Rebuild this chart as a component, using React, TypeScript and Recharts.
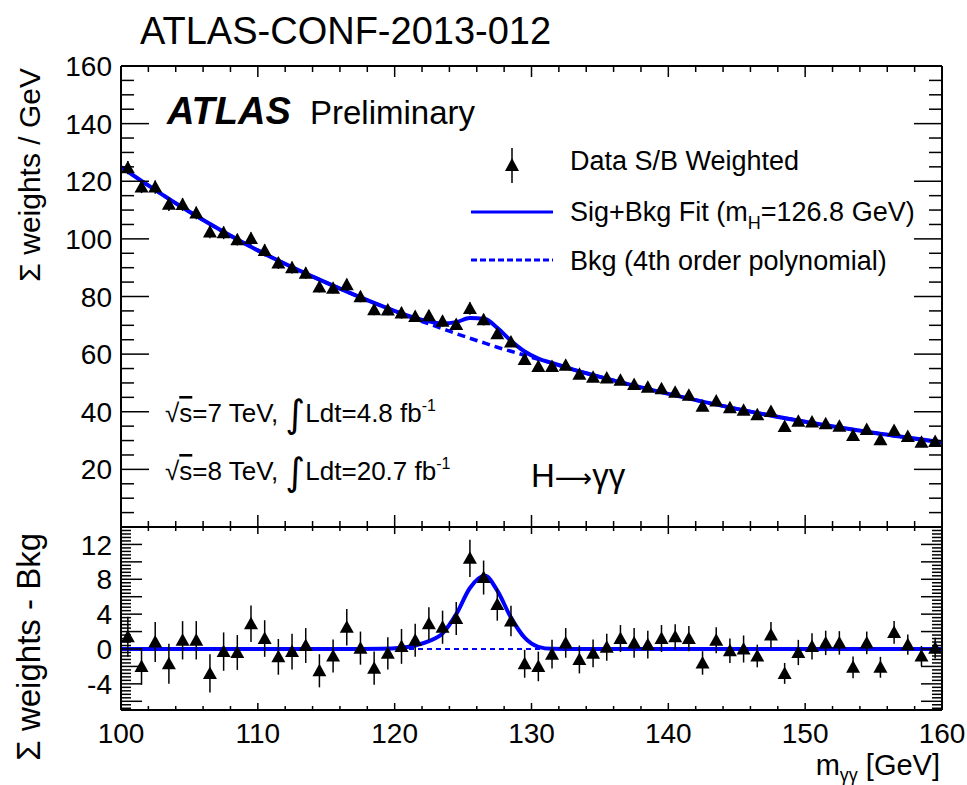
import React from 'react';
import { ComposedChart, Line, Scatter, XAxis, YAxis, ErrorBar } from 'recharts';

// bin centres of the diphoton mass histogram (GeV)
const massBins = [
  100.5, 101.5, 102.5, 103.5, 104.5, 105.5, 106.5, 107.5, 108.5, 109.5,
  110.5, 111.5, 112.5, 113.5, 114.5, 115.5, 116.5, 117.5, 118.5, 119.5,
  120.5, 121.5, 122.5, 123.5, 124.5, 125.5, 126.5, 127.5, 128.5, 129.5,
  130.5, 131.5, 132.5, 133.5, 134.5, 135.5, 136.5, 137.5, 138.5, 139.5,
  140.5, 141.5, 142.5, 143.5, 144.5, 145.5, 146.5, 147.5, 148.5, 149.5,
  150.5, 151.5, 152.5, 153.5, 154.5, 155.5, 156.5, 157.5, 158.5, 159.5,
];

// S/B weighted events per GeV
const weightedData = [
  124.7, 118.0, 118.0, 112.0, 111.9, 109.0, 102.4, 102.1, 99.7, 100.1,
  96.0, 91.6, 90.0, 88.1, 83.3, 82.9, 84.1, 79.9, 75.4, 75.3,
  74.3, 73.1, 73.3, 71.4, 70.3, 75.8, 71.9, 67.1, 64.2, 58.1,
  55.7, 55.7, 56.1, 53.0, 52.0, 51.7, 50.9, 49.5, 48.5, 48.0,
  46.8, 45.7, 41.9, 43.7, 41.4, 40.5, 39.0, 40.1, 34.9, 36.7,
  36.4, 35.8, 35.0, 31.8, 33.8, 30.3, 33.5, 31.4, 29.4, 29.7,
];

// data minus background fit
const residuals = [
  1.4, -2.0, 0.8, -1.7, 1.0, 1.0, -2.8, -0.3, -0.4, 2.9,
  1.2, -0.9, -0.3, 0.4, -2.5, -0.8, 2.5, 0.1, -2.2, -0.5,
  0.3, 1.0, 2.9, 2.5, 3.5, 10.4, 8.2, 5.1, 3.2, -1.7,
  -2.0, -0.6, 0.7, -1.2, -0.5, 0.2, 1.2, 0.7, 0.5, 1.2,
  1.4, 1.2, -1.6, 1.0, -0.2, 0.0, -0.8, 1.6, -2.8, -0.4,
  0.3, 0.7, 0.7, -2.1, 0.7, -2.1, 1.9, 0.5, -0.8, 0.1,
];

const binErrors = [
  2.3, 2.1, 2.3, 2.3, 2.2, 2.2, 2.2, 2.2, 2.0, 2.1,
  2.1, 2.05, 2.05, 2.0, 1.9, 1.9, 2.1, 1.9, 1.9, 1.85,
  2.0, 1.9, 1.9, 1.9, 1.9, 2.15, 1.95, 1.85, 1.75, 1.6,
  1.7, 1.65, 1.7, 1.6, 1.6, 1.55, 1.55, 1.7, 1.6, 1.55,
  1.45, 1.45, 1.35, 1.5, 1.4, 1.55, 1.3, 1.5, 1.2, 1.45,
  1.5, 1.4, 1.35, 1.25, 1.3, 1.2, 1.3, 1.15, 1.15, 1.2,
];

// fit curves
const fitMass = [100, 105, 110, 115, 119, 120.5, 121.5, 122.5, 123.5, 124.5, 125.5, 126.6, 127.5, 128.5, 129.5, 130.5, 131.5, 133, 135, 140, 145, 150, 155, 160];
const bkgFit = [124.9, 109.4, 96.0, 84.8, 76.8, 74.0, 72.2, 70.5, 68.8, 67.1, 65.5, 63.8, 62.4, 61.0, 59.6, 58.2, 56.9, 54.7, 52.1, 46.2, 41.0, 36.5, 32.7, 29.4];
const sigFit = [0, 0, 0, 0, 0.02, 0.15, 0.4, 0.9, 1.8, 4.0, 7.0, 8.4, 6.7, 3.6, 1.3, 0.25, 0.02, 0, 0, 0, 0, 0, 0, 0];

const xLabels = [100, 110, 120, 130, 140, 150, 160];
const upperYLabels = [20, 40, 60, 80, 100, 120, 140, 160];
const lowerYLabels = [-4, 0, 4, 8, 12];

const FONT = '"Liberation Sans", Arial, Helvetica, sans-serif';
const BLUE = '#0000ff';

function span(a: number, b: number, step: number) {
  const out: number[] = [];
  for (let v = a; v <= b + 1e-9; v += step) out.push(Math.round(v * 1000) / 1000);
  return out;
}
const isMultiple = (v: number, step: number) => Math.abs(v / step - Math.round(v / step)) < 1e-6;

const xTicks = span(100, 160, 2);
const upperYTicks = span(0, 160, 5);
const lowerYTicks = span(-6.8, 14, 0.4);

const upperPoints = massBins.map((m, i) => ({ m, y: weightedData[i], e: binErrors[i] }));
const lowerPoints = massBins.map((m, i) => ({ m, y: residuals[i], e: binErrors[i] }));
const bkgCurve = fitMass.map((m, i) => ({ m, y: bkgFit[i] }));
const sbCurve = fitMass.map((m, i) => ({ m, y: bkgFit[i] + sigFit[i] }));
const sigCurve = fitMass.map((m, i) => ({ m, y: sigFit[i] }));
const zeroLine = [{ m: 100, y: 0 }, { m: 160, y: 0 }];

type Side = 'left' | 'right' | 'top' | 'bottom';

// ROOT-style ticks pointing into the frame
function frameTick(side: Side, longStep: number, longLen: number, shortLen: number, labels: number[] = []) {
  return (props: any) => {
    const { x, y, payload } = props;
    const v = payload.value;
    const len = isMultiple(v, longStep) ? longLen : shortLen;
    const hasLabel = labels.some((l) => Math.abs(l - v) < 1e-6);
    let x2 = x;
    let y2 = y;
    if (side === 'left') x2 = x + len;
    if (side === 'right') x2 = x - len;
    if (side === 'top') y2 = y + len;
    if (side === 'bottom') y2 = y - len;
    return (
      <g>
        <line x1={x} y1={y} x2={x2} y2={y2} stroke="#000" strokeWidth={1.5} />
        {hasLabel && side === 'left' && (
          <text x={x - 9} y={y} dy="0.36em" textAnchor="end" fontFamily={FONT} fontSize={28} fill="#000">
            {v}
          </text>
        )}
        {hasLabel && side === 'bottom' && (
          <text x={x} y={y + 33} textAnchor="middle" fontFamily={FONT} fontSize={28} fill="#000">
            {v}
          </text>
        )}
      </g>
    );
  };
}

const Triangle = (props: any) => {
  const { cx, cy } = props;
  if (cx == null || cy == null) return <g />;
  return <polygon points={`${cx},${cy - 7} ${cx - 7},${cy + 5.5} ${cx + 7},${cy + 5.5}`} fill="#000" />;
};

const frame = { stroke: '#000', strokeWidth: 2 };

const UpperPanel = () => (
  <ComposedChart width={967} height={540} margin={{ top: 65, right: 24, bottom: 12, left: 0 }}>
    <XAxis xAxisId="b" dataKey="m" type="number" domain={[100, 160]} allowDataOverflow ticks={xTicks} interval={0}
      height={1} tickSize={0} tickMargin={0} axisLine={frame} tickLine={false} tick={frameTick('bottom', 10, 12, 6)} />
    <XAxis xAxisId="t" orientation="top" dataKey="m" type="number" domain={[100, 160]} allowDataOverflow ticks={xTicks} interval={0}
      height={1} tickSize={0} tickMargin={0} axisLine={frame} tickLine={false} tick={frameTick('top', 10, 11, 6)} />
    <YAxis yAxisId="l" dataKey="y" type="number" domain={[0, 160]} allowDataOverflow ticks={upperYTicks} interval={0}
      width={121} tickSize={0} tickMargin={0} axisLine={frame} tickLine={false} tick={frameTick('left', 20, 28, 13, upperYLabels)} />
    <YAxis yAxisId="r" orientation="right" dataKey="y" type="number" domain={[0, 160]} allowDataOverflow ticks={upperYTicks} interval={0}
      width={1} tickSize={0} tickMargin={0} axisLine={frame} tickLine={false} tick={frameTick('right', 20, 28, 13)} />
    <Line xAxisId="b" yAxisId="l" data={bkgCurve} dataKey="y" type="monotone" stroke={BLUE} strokeWidth={3.5}
      strokeDasharray="8 5" dot={false} activeDot={false} isAnimationActive={false} />
    <Line xAxisId="b" yAxisId="l" data={sbCurve} dataKey="y" type="monotone" stroke={BLUE} strokeWidth={4}
      dot={false} activeDot={false} isAnimationActive={false} />
    {/* invisible hooks so the top / right frame axes have a series bound to them */}
    <Line xAxisId="t" yAxisId="r" data={zeroLine} dataKey="y" stroke="none" dot={false} activeDot={false} isAnimationActive={false} />
    <Scatter xAxisId="b" yAxisId="l" data={upperPoints} dataKey="y" shape={Triangle} isAnimationActive={false}>
      <ErrorBar dataKey="e" direction="y" width={0} stroke="#000" strokeWidth={1.5} />
    </Scatter>
  </ComposedChart>
);

const LowerPanel = () => (
  <ComposedChart width={967} height={785} margin={{ top: 526, right: 24, bottom: 74, left: 0 }}>
    <XAxis xAxisId="b" dataKey="m" type="number" domain={[100, 160]} allowDataOverflow ticks={xTicks} interval={0}
      height={1} tickSize={0} tickMargin={0} axisLine={frame} tickLine={false} tick={frameTick('bottom', 10, 7, 4, xLabels)} />
    <XAxis xAxisId="t" orientation="top" dataKey="m" type="number" domain={[100, 160]} allowDataOverflow ticks={xTicks} interval={0}
      height={1} tickSize={0} tickMargin={0} axisLine={frame} tickLine={false} tick={frameTick('top', 10, 7, 4)} />
    <YAxis yAxisId="l" dataKey="y" type="number" domain={[-7, 14]} allowDataOverflow ticks={lowerYTicks} interval={0}
      width={121} tickSize={0} tickMargin={0} axisLine={frame} tickLine={false} tick={frameTick('left', 2, 21, 10, lowerYLabels)} />
    <YAxis yAxisId="r" orientation="right" dataKey="y" type="number" domain={[-7, 14]} allowDataOverflow ticks={lowerYTicks} interval={0}
      width={1} tickSize={0} tickMargin={0} axisLine={frame} tickLine={false} tick={frameTick('right', 2, 21, 10)} />
    <Line xAxisId="b" yAxisId="l" data={zeroLine} dataKey="y" type="linear" stroke={BLUE} strokeWidth={2}
      strokeDasharray="5 4" dot={false} activeDot={false} isAnimationActive={false} />
    <Line xAxisId="b" yAxisId="l" data={sigCurve} dataKey="y" type="monotone" stroke={BLUE} strokeWidth={4}
      dot={false} activeDot={false} isAnimationActive={false} />
    <Line xAxisId="t" yAxisId="r" data={zeroLine} dataKey="y" stroke="none" dot={false} activeDot={false} isAnimationActive={false} />
    <Scatter xAxisId="b" yAxisId="l" data={lowerPoints} dataKey="y" shape={Triangle} isAnimationActive={false}>
      <ErrorBar dataKey="e" direction="y" width={0} stroke="#000" strokeWidth={1.5} />
    </Scatter>
  </ComposedChart>
);

const Annotations = () => (
  <svg width={967} height={785} style={{ position: 'absolute', left: 0, top: 0, pointerEvents: 'none' }} fontFamily={FONT}>
    <text x={140} y={44} fontSize={38}>ATLAS-CONF-2013-012</text>
    <text x={167} y={124} fontSize={38} fontWeight="bold" fontStyle="italic">ATLAS</text>
    <text x={310} y={124} fontSize={33}>Preliminary</text>

    {/* legend */}
    <line x1={512} y1={148} x2={512} y2={183} stroke="#000" strokeWidth={1.5} />
    <polygon points="512,158 505,171 519,171" fill="#000" />
    <text x={570} y={170} fontSize={27}>Data S/B Weighted</text>
    <line x1={471} y1={212} x2={553} y2={212} stroke={BLUE} strokeWidth={3} />
    <text x={570} y={221} fontSize={27}>
      Sig+Bkg Fit (m<tspan fontSize={18} dy={8}>H</tspan><tspan dy={-8}>=126.8 GeV)</tspan>
    </text>
    <line x1={471} y1={260} x2={553} y2={260} stroke={BLUE} strokeWidth={3} strokeDasharray="6 3" />
    <text x={570} y={270} fontSize={27}>Bkg (4th order polynomial)</text>

    <text x={165} y={422} fontSize={26}>
      √<tspan textDecoration="overline">s</tspan>=7 TeV, <tspan fontSize={38} dy={5} fontFamily="DejaVu Sans">∫</tspan><tspan dy={-5}>Ldt=4.8 fb</tspan><tspan fontSize={16} dy={-11}>-1</tspan>
    </text>
    <text x={165} y={480} fontSize={26}>
      √<tspan textDecoration="overline">s</tspan>=8 TeV, <tspan fontSize={38} dy={5} fontFamily="DejaVu Sans">∫</tspan><tspan dy={-5}>Ldt=20.7 fb</tspan><tspan fontSize={16} dy={-11}>-1</tspan>
    </text>
    <text x={531} y={487} fontSize={33}>
      H<tspan fontFamily="DejaVu Sans" fontSize={26}>⟶</tspan>γγ
    </text>

    {/* axis titles */}
    <text transform="translate(40,68) rotate(-90)" textAnchor="end" fontSize={30}>Σ weights / GeV</text>
    <text transform="translate(40,533) rotate(-90)" textAnchor="end" fontSize={33}>Σ weights - Bkg</text>
    <text x={940} y={775} textAnchor="end" fontSize={29}>
      m<tspan fontSize={18} dy={6}>γγ</tspan><tspan dy={-6}> [GeV]</tspan>
    </text>
  </svg>
);

export default function App() {
  return (
    <div style={{ position: 'absolute', left: 0, top: 0, width: 967, height: 785, background: '#fff', overflow: 'hidden' }}>
      <div style={{ position: 'absolute', left: 0, top: 0 }}>
        <UpperPanel />
      </div>
      <div style={{ position: 'absolute', left: 0, top: 0 }}>
        <LowerPanel />
      </div>
      <Annotations />
    </div>
  );
}
